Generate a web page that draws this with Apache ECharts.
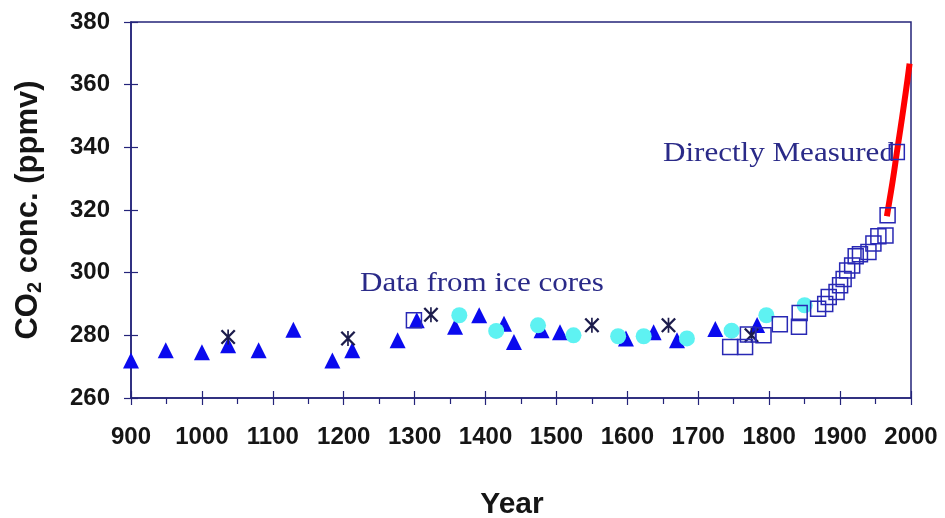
<!DOCTYPE html>
<html>
<head>
<meta charset="utf-8">
<script src="https://cdn.jsdelivr.net/npm/echarts@6/dist/echarts.min.js"></script>
<style>
html,body{margin:0;padding:0;background:#fff;}
#chart{width:945px;height:518px;}
</style>
</head>
<body>
<div id="chart"></div>
<script>
// ---- Data ----
const xTicks = [900, 1000, 1100, 1200, 1300, 1400, 1500, 1600, 1700, 1800, 1900, 2000];
const yTicks = [260, 280, 300, 320, 340, 360, 380];

const triangles = [[900,272],[949,275.2],[1000,274.6],[1037,276.8],[1080,275.2],[1129,281.8],[1184,272],[1212,275.2],[1276,278.4],[1303,284.8],[1357,282.7],[1391,286.4],[1426,283.7],[1440,277.9],[1479,281.6],[1505,281],[1598,279],[1637,281],[1670,278.4],[1724,282],[1783,283.3]];

const circles = [[1363,286.4],[1415,281.4],[1474,283.2],[1524,280],[1587,279.7],[1623,279.7],[1684,279],[1747,281.5],[1796,286.4],[1850,289.6]];

const asterisks = [[1037,279.5],[1206,279],[1323,286.6],[1550,283.2],[1658,283.2],[1775,280]];

const squares = [[1299,284.8],[1745,276.3],[1766,276.3],[1770,280.3],[1792,280],[1815,283.5],[1842,282.7],[1843,287.1],[1869,288.5],[1879,290],[1884,292.2],[1895,293.8],[1900,296],[1905,298],[1910,300.7],[1917,302.3],[1922,305.2],[1928,305.9],[1940,306.6],[1947,309.3],[1954,311.6],[1964,311.9],[1967,318.3],[1980,338.5]];

const measured = [[1966,318],[1970,323.5],[1975,330.5],[1980,338.3],[1985,345.8],[1990,353.5],[1995,361.5],[1998,366.7]];

const labelIce = 'Data from ice cores';
const labelMeasured = 'Directly Measured';
const xName = 'Year';

// ---- Styling ----
const navy = '#24247a';
const asteriskPath = 'path://M9,0 L11,0 L11,20 L9,20 Z M1,2 L3,0 L19,18 L17,20 Z M17,0 L19,2 L3,20 L1,18 Z';
const sans = 'Liberation Sans, Arial, sans-serif';
const serif = 'Liberation Serif, Times New Roman, serif';

const chart = echarts.init(document.getElementById('chart'));
const labelFont = {fontFamily: sans, fontWeight: 'bold', fontSize: 24, color: '#151515'};

const option = {
  animation: false,
  backgroundColor: '#fff',
  grid: {left: 131, right: 34, top: 22, bottom: 120, outerBoundsMode: 'none', containLabel: false,
         show: true, borderColor: navy, borderWidth: 1.5, backgroundColor: 'transparent'},
  xAxis: [{
    type: 'value', min: 900, max: 2000, interval: 100,
    axisLine: {show: true, lineStyle: {color: navy, width: 1.5}},
    axisTick: {show: true, length: 7, lineStyle: {color: navy, width: 1.2}},
    minorTick: {show: true, splitNumber: 2, length: 6, lineStyle: {color: navy, width: 1.2}},
    splitLine: {show: false},
    axisLabel: Object.assign({margin: 27, formatter: v => String(v)}, labelFont),
    name: xName, nameLocation: 'middle', nameGap: 92,
    nameTextStyle: {fontFamily: sans, fontWeight: 'bold', fontSize: 30, color: '#151515', padding: [0, 18, 0, 0]}
  }, {
    type: 'value', min: 900, max: 2000, interval: 100, position: 'bottom',
    axisLine: {show: false},
    axisTick: {show: true, inside: true, length: 7, lineStyle: {color: navy, width: 1.2}},
    axisLabel: {show: false}, splitLine: {show: false}
  }],
  yAxis: [{
    type: 'value', min: 260, max: 380, interval: 20,
    axisLine: {show: true, lineStyle: {color: navy, width: 1.5}},
    axisTick: {show: true, length: 7, lineStyle: {color: navy, width: 1.2}},
    splitLine: {show: false},
    axisLabel: Object.assign({margin: 21}, labelFont),
    name: '{b|CO}{s|2}{b| conc. (ppmv)}', nameLocation: 'middle', nameGap: 86, nameRotate: 90,
    nameTextStyle: {
      rich: {
        b: {fontFamily: sans, fontWeight: 'bold', fontSize: 31, color: '#151515'},
        s: {fontFamily: sans, fontWeight: 'bold', fontSize: 20, color: '#151515', verticalAlign: 'bottom', padding: [13, 0, 0, 0]}
      }
    }
  }, {
    type: 'value', min: 260, max: 380, interval: 20, position: 'left',
    axisLine: {show: false},
    axisTick: {show: true, inside: true, length: 7, lineStyle: {color: navy, width: 1.2}},
    axisLabel: {show: false}, splitLine: {show: false}
  }],
  series: [{
    type: 'line', data: measured, showSymbol: false, symbol: 'none', smooth: true,
    lineStyle: {color: '#ff0000', width: 6}, z: 1
  }, {
    type: 'scatter', data: triangles, symbol: 'triangle', symbolSize: 16,
    itemStyle: {color: '#0a0aee', opacity: 1}, z: 2
  }, {
    type: 'scatter', data: circles, symbol: 'circle', symbolSize: 16,
    itemStyle: {color: '#5ef2f2', opacity: 1}, z: 3
  }, {
    type: 'scatter', data: asterisks, symbol: asteriskPath, symbolSize: 15,
    itemStyle: {color: '#1c1c4c', opacity: 1}, z: 4
  }, {
    type: 'scatter', data: squares, symbol: 'rect', symbolSize: 15,
    itemStyle: {color: 'rgba(0,0,0,0)', borderColor: '#2828b4', borderWidth: 1.5, opacity: 1}, z: 5
  }],
  graphic: [{
    type: 'text', x: 360, y: 270, scaleX: 1.15,
    style: {text: labelIce, fontFamily: serif, fontSize: 27, fill: '#2a2a88', verticalAlign: 'top'}
  }, {
    type: 'text', x: 663, y: 140, scaleX: 1.15,
    style: {text: labelMeasured, fontFamily: serif, fontSize: 27, fill: '#2a2a88', verticalAlign: 'top'}
  }]
};
chart.setOption(option);
</script>
</body>
</html>
